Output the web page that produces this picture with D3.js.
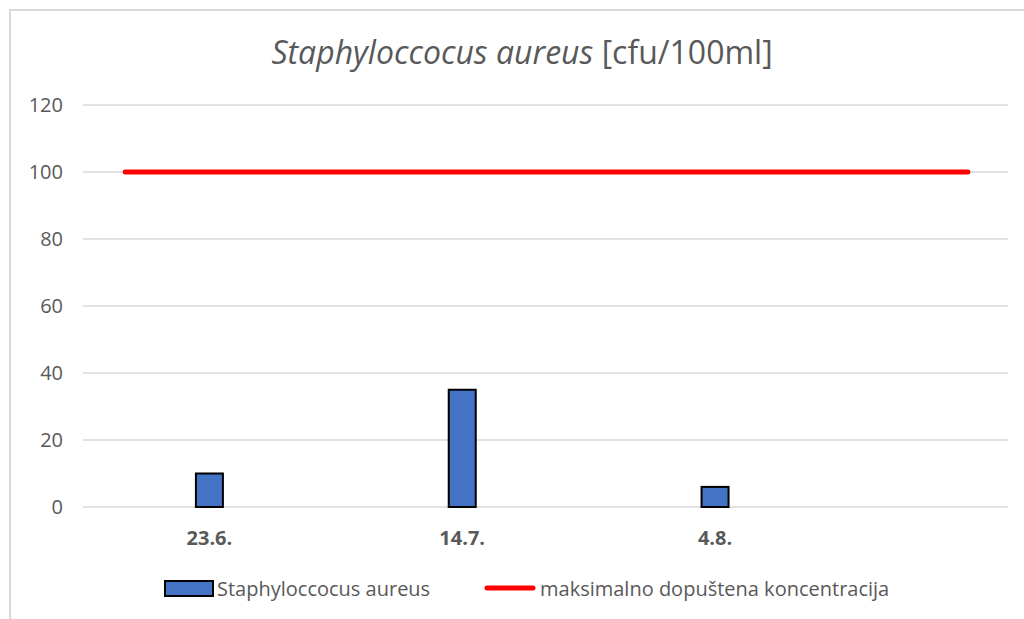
<!DOCTYPE html>
<html>
<head>
<meta charset="utf-8">
<script src="https://cdn.jsdelivr.net/npm/d3@7"></script>
<style>
body { margin: 0; background: #fff; }
svg { font-family: "Open Sans", "Noto Sans", sans-serif; }
</style>
</head>
<body>
<svg id="chart" width="1024" height="619"></svg>
<script>
var parseDay = d3.timeParse("%Y-%m-%d");

// measured samples
var sampleDates = ["2023-06-23", "2023-07-14", "2023-08-04"];
var sampleLabels = ["23.6.", "14.7.", "4.8."];
var sampleValues = [10, 35, 6];

// limit line
var limitDates = ["2023-06-16", "2023-08-25"];
var limitValues = [100, 100];

var yTicks = [0, 20, 40, 60, 80, 100, 120];
var seriesNames = ["Staphyloccocus aureus", "maksimalno dopuštena koncentracija"];

var svg = d3.select("#chart");

// chart frame
svg.append("rect")
	.attr("x", 10).attr("y", 10)
	.attr("width", 1030).attr("height", 620)
	.style("fill", "none")
	.style("stroke", "#d9d9d9")
	.style("stroke-width", 2);

var x = d3.scaleTime()
	.domain([new Date(2023, 5, 12, 12), new Date(2023, 7, 28, 8)])
	.range([83, 1008]);

var y = d3.scaleLinear()
	.domain([0, 120])
	.range([507, 105]);

// gridlines
svg.append("g")
	.selectAll("line")
	.data(yTicks)
	.enter().append("line")
	.attr("x1", 83).attr("x2", 1008)
	.attr("y1", function (d) { return y(d); })
	.attr("y2", function (d) { return y(d); })
	.style("stroke", "#d9d9d9")
	.style("stroke-width", 1.5);

// y axis labels
var yAxis = svg.append("g")
	.attr("transform", "translate(63,0)")
	.call(d3.axisLeft(y).tickValues(yTicks).tickSize(0).tickPadding(0));
yAxis.select(".domain").remove();
yAxis.selectAll("text")
	.style("font-size", "20px")
	.style("fill", "#595959")
	.style("font-family", "\"Open Sans\", sans-serif");

// bars
var samples = sampleDates.map(function (d, i) {
	return { date: parseDay(d), label: sampleLabels[i], value: sampleValues[i] };
});

svg.append("g")
	.selectAll("rect")
	.data(samples)
	.enter().append("rect")
	.attr("x", function (d) { return x(d.date) - 13.5; })
	.attr("y", function (d) { return y(d.value); })
	.attr("width", 27)
	.attr("height", function (d) { return y(0) - y(d.value); })
	.style("fill", "#4472c4")
	.style("stroke", "#000")
	.style("stroke-width", 2);

// category labels
svg.append("g")
	.selectAll("text")
	.data(samples)
	.enter().append("text")
	.attr("x", function (d) { return x(d.date); })
	.attr("y", 545)
	.attr("text-anchor", "middle")
	.style("font-size", "20px")
	.style("font-weight", "bold")
	.style("fill", "#595959")
	.text(function (d) { return d.label; });

// limit line
var limit = limitDates.map(function (d, i) {
	return { date: parseDay(d), value: limitValues[i] };
});

svg.append("path")
	.datum(limit)
	.attr("d", d3.line()
		.x(function (d) { return x(d.date); })
		.y(function (d) { return y(d.value); }))
	.style("fill", "none")
	.style("stroke", "#ff0000")
	.style("stroke-width", 5)
	.style("stroke-linecap", "round");

// title
var title = svg.append("text")
	.attr("x", 522)
	.attr("y", 64)
	.attr("text-anchor", "middle")
	.style("font-size", "32px")
	.style("fill", "#595959");
title.append("tspan").style("font-style", "italic").text("Staphyloccocus aureus");
title.append("tspan").text(" [cfu/100ml]");

// legend
var legend = svg.append("g");
legend.append("rect")
	.attr("x", 165).attr("y", 581)
	.attr("width", 48).attr("height", 15)
	.style("fill", "#4472c4")
	.style("stroke", "#000")
	.style("stroke-width", 2);
legend.append("text")
	.attr("x", 217).attr("y", 596)
	.style("font-size", "20px")
	.style("fill", "#595959")
	.text(seriesNames[0]);
legend.append("line")
	.attr("x1", 487).attr("x2", 533)
	.attr("y1", 588).attr("y2", 588)
	.style("stroke", "#ff0000")
	.style("stroke-width", 5)
	.style("stroke-linecap", "round");
legend.append("text")
	.attr("x", 540).attr("y", 596)
	.style("font-size", "20px")
	.style("fill", "#595959")
	.text(seriesNames[1]);
</script>
</body>
</html>
